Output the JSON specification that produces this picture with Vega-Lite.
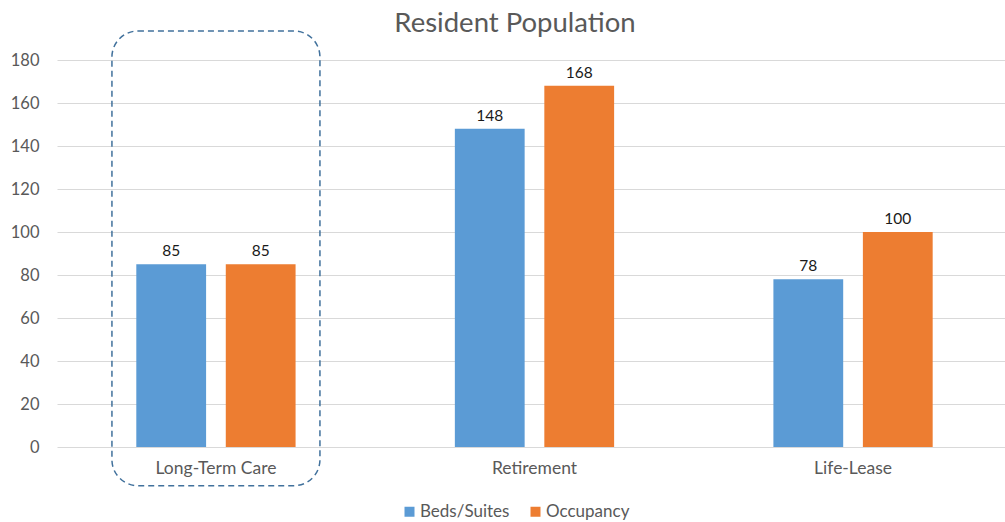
{
  "$schema": "https://vega.github.io/schema/vega-lite/v6.json",
  "width": 948,
  "height": 387,
  "autosize": "none",
  "padding": {"left": 57, "top": 60, "right": 0, "bottom": 75},
  "background": "white",
  "title": {
    "text": "Resident Population",
    "font": "Lato",
    "fontSize": 27.5,
    "fontWeight": "normal",
    "color": "#595959",
    "anchor": "middle",
    "baseline": "alphabetic",
    "dx": -16,
    "dy": 24,
    "offset": -5
  },
  "config": {
    "view": {"stroke": null},
    "font": "Lato",
    "axis": {"labelFont": "Lato", "labelColor": "#595959"},
    "legend": {"labelFont": "Lato", "labelColor": "#595959", "labelFontSize": 17}
  },
  "data": {
    "values": [
      {"category": "Long-Term Care", "series": "Beds/Suites", "value": 85},
      {"category": "Long-Term Care", "series": "Occupancy", "value": 85},
      {"category": "Retirement", "series": "Beds/Suites", "value": 148},
      {"category": "Retirement", "series": "Occupancy", "value": 168},
      {"category": "Life-Lease", "series": "Beds/Suites", "value": 78},
      {"category": "Life-Lease", "series": "Occupancy", "value": 100}
    ]
  },
  "encoding": {
    "x": {
      "field": "category",
      "type": "nominal",
      "scale": {"domain": ["Long-Term Care", "Retirement", "Life-Lease"], "paddingInner": 0.5, "paddingOuter": 0.238, "align": 0.523},
      "axis": {"title": null, "labelAngle": 0, "domain": false, "ticks": false, "labelPadding": 12, "labelFontSize": 17.5, "grid": false}
    }
  },
  "layer": [
    {
      "mark": {"type": "bar"},
      "encoding": {
        "y": {
          "field": "value",
          "type": "quantitative",
          "scale": {"domain": [0, 180], "nice": false, "zero": true},
          "axis": {"title": null, "values": [0, 20, 40, 60, 80, 100, 120, 140, 160, 180], "domain": false, "ticks": false, "labelPadding": 18, "labelFontSize": 16.5, "gridColor": "#d9d9d9", "gridWidth": 1}
        },
        "xOffset": {"field": "series", "type": "nominal", "sort": ["Beds/Suites", "Occupancy"], "scale": {"paddingInner": 0.22, "paddingOuter": 0}},
        "color": {
          "field": "series",
          "type": "nominal",
          "scale": {"domain": ["Beds/Suites", "Occupancy"], "range": ["#5B9BD5", "#ED7D31"]},
          "legend": {"title": null, "orient": "none", "legendX": 344, "legendY": 443, "direction": "horizontal", "symbolType": "square", "symbolSize": 100, "symbolStrokeWidth": 0, "columnPadding": 17, "labelOffset": 2}
        }
      }
    },
    {
      "mark": {"type": "text", "baseline": "bottom", "dy": -5, "fontSize": 15.5, "color": "#1a1a1a", "font": "Lato"},
      "encoding": {
        "y": {"field": "value", "type": "quantitative"},
        "xOffset": {"field": "series", "type": "nominal", "sort": ["Beds/Suites", "Occupancy"]},
        "text": {"field": "value", "type": "quantitative"}
      }
    },
    {
      "transform": [{"filter": "datum.category === 'Long-Term Care' && datum.series === 'Beds/Suites'"}],
      "mark": {"type": "rect", "fill": "transparent", "stroke": "#41719C", "strokeWidth": 1.5, "strokeDash": [6, 4], "cornerRadius": 26, "width": 208, "clip": false},
      "encoding": {
        "y": {"datum": -18, "type": "quantitative"},
        "y2": {"datum": 193.5}
      }
    }
  ]
}
